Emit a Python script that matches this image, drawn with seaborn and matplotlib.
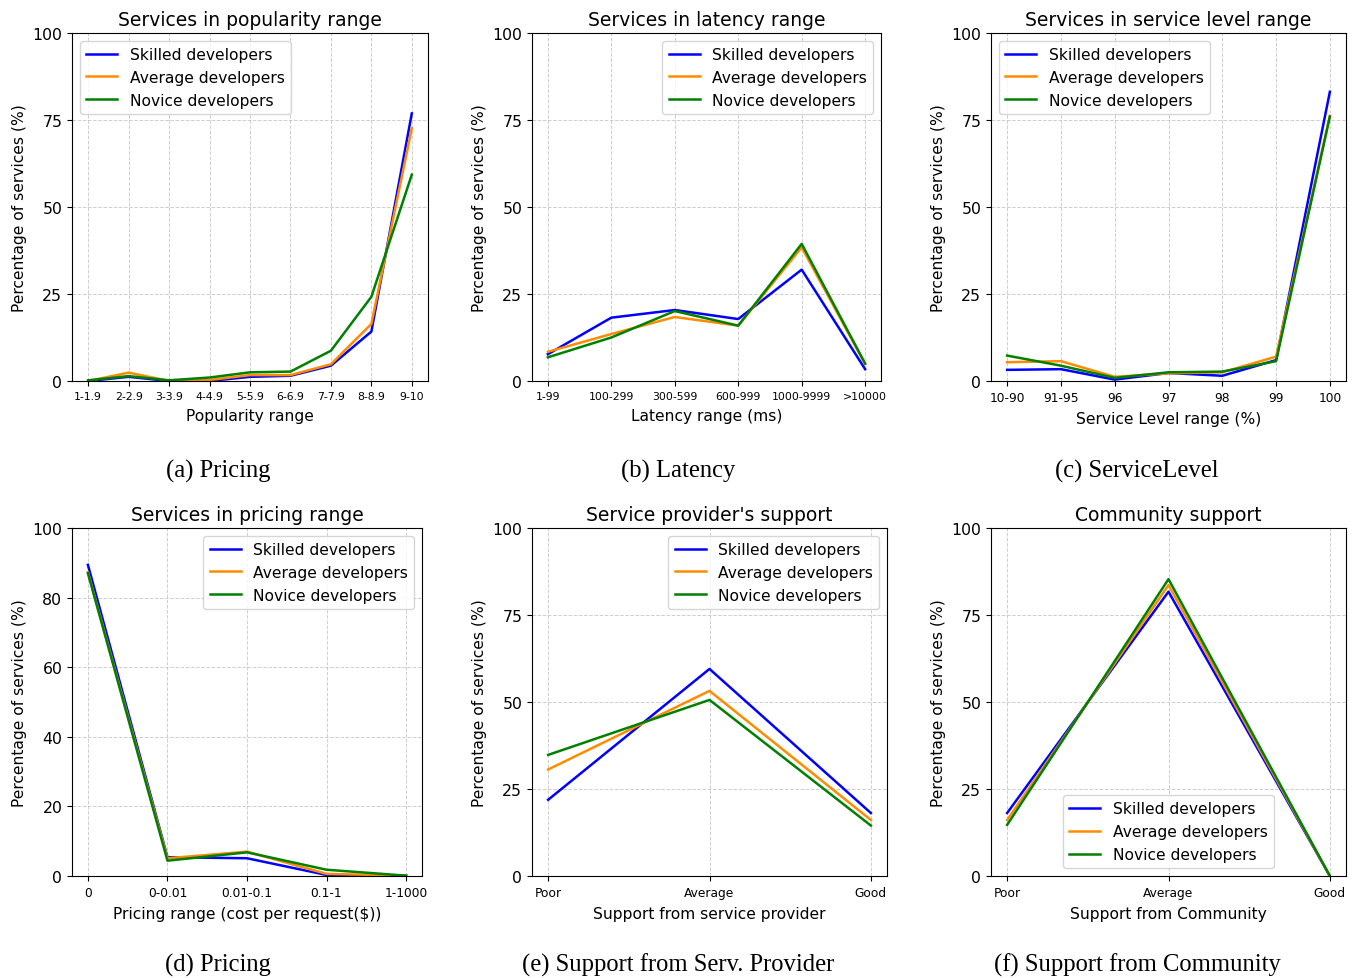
import numpy as np
import pandas as pd
import seaborn as sns
import matplotlib.pyplot as plt

# 开发者类别及配色
groups = ["Skilled developers", "Average developers", "Novice developers"]
colors = {"Skilled developers": "blue",
          "Average developers": "darkorange",
          "Novice developers": "green"}

# (a) popularity
pop_cats = ["1-1.9", "2-2.9", "3-3.9", "4-4.9", "5-5.9", "6-6.9", "7-7.9", "8-8.9", "9-10"]
pop_skilled = [0.0, 1.2, 0.0, 0.0, 1.2, 1.5, 4.4, 14.2, 76.9]
pop_average = [0.0, 2.4, 0.0, 0.3, 1.7, 1.7, 4.8, 16.4, 72.6]
pop_novice = [0.2, 1.4, 0.2, 1.0, 2.5, 2.7, 8.7, 24.2, 59.3]

# (b) latency
lat_cats = ["1-99", "100-299", "300-599", "600-999", "1000-9999", ">10000"]
lat_skilled = [7.7, 18.2, 20.4, 17.8, 32.0, 3.4]
lat_average = [8.4, 13.5, 18.4, 15.9, 38.4, 4.9]
lat_novice = [6.8, 12.5, 20.1, 15.9, 39.4, 5.0]

# (c) service level
sl_cats = ["10-90", "91-95", "96", "97", "98", "99", "100"]
sl_skilled = [3.2, 3.4, 0.4, 2.3, 1.5, 6.0, 83.1]
sl_average = [5.4, 5.7, 1.2, 2.2, 2.5, 7.0, 76.2]
sl_novice = [7.3, 4.4, 0.9, 2.5, 2.7, 5.7, 76.0]

# (d) pricing
pr_cats = ["0", "0-0.01", "0.01-0.1", "0.1-1", "1-1000"]
pr_skilled = [89.4, 5.4, 5.1, 0.3, 0.1]
pr_average = [87.3, 5.1, 7.0, 0.6, 0.1]
pr_novice = [87.0, 4.4, 6.8, 1.8, 0.1]

# (e) provider support
sp_cats = ["Poor", "Average", "Good"]
sp_skilled = [21.9, 59.5, 18.1]
sp_average = [30.6, 53.2, 16.1]
sp_novice = [34.8, 50.6, 14.5]

# (f) community support
cs_cats = ["Poor", "Average", "Good"]
cs_skilled = [18.1, 81.7, 0.0]
cs_average = [16.1, 83.6, 0.0]
cs_novice = [14.7, 85.3, 0.0]

W, H = 1357, 979
fig = plt.figure(figsize=(W / 100, H / 100), dpi=100)


def px_axes(l, t, r, b):
    return fig.add_axes([l / W, 1 - b / H, (r - l) / W, (b - t) / H])


panels = [
    dict(box=(72, 34, 428, 382), cats=pop_cats, vals=(pop_skilled, pop_average, pop_novice),
         title="Services in popularity range", xlabel="Popularity range",
         loc="upper left", xfs=7.8, yticks=[0, 25, 50, 75, 100]),
    dict(box=(532, 34, 881, 382), cats=lat_cats, vals=(lat_skilled, lat_average, lat_novice),
         title="Services in latency range", xlabel="Latency range (ms)",
         loc="upper right", xfs=7.8, yticks=[0, 25, 50, 75, 100]),
    dict(box=(991, 34, 1346, 382), cats=sl_cats, vals=(sl_skilled, sl_average, sl_novice),
         title="Services in service level range", xlabel="Service Level range (%)",
         loc="upper left", xfs=8.8, yticks=[0, 25, 50, 75, 100]),
    dict(box=(72, 529, 422, 877), cats=pr_cats, vals=(pr_skilled, pr_average, pr_novice),
         title="Services in pricing range", xlabel="Pricing range (cost per request($))",
         loc="upper right", xfs=8.8, yticks=[0, 20, 40, 60, 80, 100]),
    dict(box=(532, 529, 887, 877), cats=sp_cats, vals=(sp_skilled, sp_average, sp_novice),
         title="Service provider's support", xlabel="Support from service provider",
         loc="upper right", xfs=8.8, yticks=[0, 25, 50, 75, 100]),
    dict(box=(991, 529, 1346, 877), cats=cs_cats, vals=(cs_skilled, cs_average, cs_novice),
         title="Community support", xlabel="Support from Community",
         loc="lower center", xfs=8.8, yticks=[0, 25, 50, 75, 100]),
]

for p in panels:
    ax = px_axes(*p["box"])
    for name, v in zip(groups, p["vals"]):
        sns.lineplot(x=p["cats"], y=v, color=colors[name], label=name,
                     linewidth=1.8, ax=ax)
    ax.set_ylim(0, 100)
    ax.set_yticks(p["yticks"])
    ax.grid(True, linestyle="--", linewidth=0.7, alpha=0.6)
    ax.set_title(p["title"], fontsize=13.5)
    ax.set_xlabel(p["xlabel"], fontsize=11.2, labelpad=5)
    ax.set_ylabel("Percentage of services (%)", fontsize=11.2)
    ax.tick_params(axis="x", labelsize=p["xfs"])
    ax.tick_params(axis="y", labelsize=11.3)
    ax.legend(loc=p["loc"], fontsize=11.2)

# 子图说明文字
captions = [("(a) Pricing", 218, 471), ("(b) Latency", 678, 471), ("(c) ServiceLevel", 1137, 471),
            ("(d) Pricing", 218, 965), ("(e) Support from Serv. Provider", 678, 965),
            ("(f) Support from Community", 1137, 965)]
for txt, cx, cy in captions:
    fig.text(cx / W, 1 - cy / H, txt, ha="center", va="center",
             fontsize=17.7, family="Liberation Serif")

plt.savefig("out.png", dpi=100)
